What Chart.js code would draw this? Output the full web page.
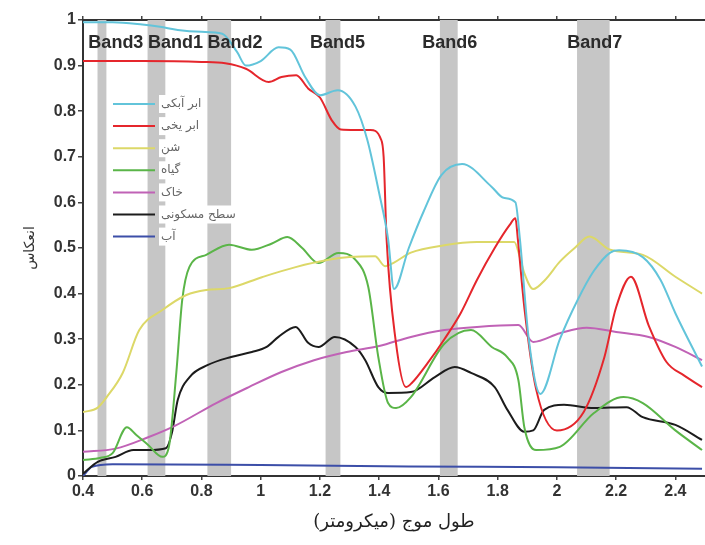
<!DOCTYPE html>
<html>
<head>
<meta charset="utf-8">
<script src="https://cdn.jsdelivr.net/npm/chart.js@4.4.1/dist/chart.umd.min.js"></script>
<style>
  html, body { margin: 0; padding: 0; background: #fff; }
</style>
</head>
<body>
<canvas id="chart" width="705" height="545"></canvas>
<script>
'use strict'

// axis ticks
let xTicks = [0.4, 0.6, 0.8, 1, 1.2, 1.4, 1.6, 1.8, 2, 2.2, 2.4];
let yTicks = [0, 0.1, 0.2, 0.3, 0.4, 0.5, 0.6, 0.7, 0.8, 0.9, 1];

// MODIS style bands (micrometre)
let bandNames = ['Band3', 'Band1', 'Band2', 'Band5', 'Band6', 'Band7'];
let bandFrom = [0.449, 0.618, 0.82, 1.219, 1.605, 2.068];
let bandTo = [0.479, 0.678, 0.90, 1.269, 1.665, 2.178];
let bandLabelX = [0.511, 0.712, 0.913, 1.259, 1.638, 2.128];
let bandLabelY = 0.95;

let seriesNames = ['ابر آبکی', 'ابر یخی', 'شن', 'گیاه', 'خاک', 'سطح مسکونی', 'آب'];
let seriesColors = ['#62c4da', '#e5262c', '#dcd868', '#5ab548', '#c062b6', '#1c1c1c', '#3c4ea8'];

// ابر آبکی
let waterCloudX = [0.40, 0.50, 0.60, 0.66, 0.72, 0.80, 0.87, 0.92, 0.95, 1.00, 1.06, 1.10, 1.15, 1.20, 1.26, 1.32, 1.36, 1.40, 1.43, 1.45, 1.50, 1.55, 1.61, 1.68, 1.78, 1.82, 1.86, 1.875, 1.905, 1.944, 2.01, 2.07, 2.125, 2.18, 2.21, 2.29, 2.35, 2.40, 2.49];
let waterCloudY = [0.995, 0.995, 0.99, 0.985, 0.978, 0.974, 0.97, 0.93, 0.90, 0.91, 0.94, 0.935, 0.875, 0.835, 0.846, 0.81, 0.737, 0.62, 0.52, 0.41, 0.50, 0.58, 0.66, 0.684, 0.634, 0.61, 0.60, 0.52, 0.30, 0.18, 0.30, 0.386, 0.45, 0.49, 0.495, 0.48, 0.43, 0.357, 0.24];

// ابر یخی
let iceCloudX = [0.40, 0.60, 0.80, 0.88, 0.95, 1.027, 1.07, 1.12, 1.16, 1.20, 1.24, 1.27, 1.32, 1.37, 1.405, 1.415, 1.425, 1.455, 1.49, 1.51, 1.564, 1.62, 1.675, 1.73, 1.79, 1.84, 1.86, 1.868, 1.89, 1.93, 2.00, 2.09, 2.16, 2.20, 2.25, 2.31, 2.37, 2.43, 2.49];
let iceCloudY = [0.91, 0.91, 0.908, 0.905, 0.893, 0.864, 0.875, 0.879, 0.85, 0.83, 0.78, 0.76, 0.759, 0.759, 0.74, 0.70, 0.52, 0.30, 0.195, 0.204, 0.248, 0.30, 0.357, 0.43, 0.50, 0.55, 0.565, 0.52, 0.37, 0.19, 0.10, 0.14, 0.26, 0.37, 0.437, 0.33, 0.25, 0.22, 0.195];

// شن
let sandX = [0.40, 0.45, 0.48, 0.534, 0.59, 0.668, 0.749, 0.816, 0.893, 1.004, 1.118, 1.229, 1.30, 1.386, 1.42, 1.45, 1.507, 1.62, 1.73, 1.856, 1.875, 1.89, 1.92, 1.96, 2.01, 2.06, 2.11, 2.18, 2.29, 2.40, 2.49];
let sandY = [0.14, 0.15, 0.173, 0.226, 0.32, 0.364, 0.397, 0.408, 0.412, 0.436, 0.458, 0.474, 0.48, 0.482, 0.46, 0.468, 0.49, 0.506, 0.513, 0.513, 0.48, 0.445, 0.41, 0.43, 0.47, 0.50, 0.525, 0.496, 0.485, 0.437, 0.40];

// گیاه
let vegX = [0.40, 0.46, 0.50, 0.548, 0.58, 0.62, 0.668, 0.69, 0.715, 0.735, 0.759, 0.816, 0.893, 0.97, 1.038, 1.09, 1.14, 1.195, 1.262, 1.32, 1.363, 1.397, 1.43, 1.457, 1.507, 1.62, 1.71, 1.78, 1.833, 1.87, 1.89, 1.93, 2.01, 2.125, 2.225, 2.29, 2.40, 2.49];
let vegY = [0.035, 0.04, 0.05, 0.107, 0.09, 0.068, 0.042, 0.064, 0.226, 0.386, 0.458, 0.485, 0.507, 0.496, 0.51, 0.524, 0.50, 0.467, 0.489, 0.474, 0.415, 0.261, 0.16, 0.149, 0.173, 0.29, 0.32, 0.283, 0.26, 0.21, 0.107, 0.057, 0.064, 0.138, 0.173, 0.16, 0.10, 0.057];

// خاک
let soilX = [0.40, 0.51, 0.62, 0.71, 0.85, 0.96, 1.07, 1.18, 1.29, 1.40, 1.507, 1.62, 1.73, 1.87, 1.92, 2.01, 2.10, 2.20, 2.31, 2.40, 2.49];
let soilY = [0.053, 0.06, 0.085, 0.11, 0.16, 0.195, 0.228, 0.254, 0.272, 0.285, 0.305, 0.32, 0.327, 0.331, 0.294, 0.313, 0.325, 0.316, 0.305, 0.283, 0.254];

// سطح مسکونی
let urbanX = [0.40, 0.45, 0.51, 0.57, 0.62, 0.68, 0.70, 0.72, 0.76, 0.82, 0.90, 0.97, 1.02, 1.06, 1.118, 1.16, 1.195, 1.25, 1.32, 1.353, 1.397, 1.43, 1.507, 1.588, 1.655, 1.71, 1.79, 1.833, 1.89, 1.92, 1.957, 2.024, 2.125, 2.235, 2.29, 2.40, 2.49];
let urbanY = [0.005, 0.031, 0.042, 0.057, 0.057, 0.061, 0.094, 0.167, 0.217, 0.243, 0.261, 0.272, 0.283, 0.305, 0.327, 0.292, 0.283, 0.305, 0.283, 0.254, 0.195, 0.182, 0.184, 0.217, 0.239, 0.226, 0.195, 0.145, 0.097, 0.10, 0.145, 0.156, 0.149, 0.151, 0.129, 0.112, 0.079];

// آب
let waterX = [0.40, 0.43, 0.50, 1.00, 1.50, 2.00, 2.49];
let waterY = [0.0, 0.02, 0.026, 0.024, 0.021, 0.019, 0.016];

let seriesX = [waterCloudX, iceCloudX, sandX, vegX, soilX, urbanX, waterX];
let seriesY = [waterCloudY, iceCloudY, sandY, vegY, soilY, urbanY, waterY];

function toPoints(xs, ys) {
    return xs.map((x, i) => ({ x: x, y: ys[i] }));
}

function fmt(v) {
    return String(Math.round(v * 10) / 10);
}

// gray band columns, band captions and the hand placed legend
const bandsPlugin = {
    id: 'bands',
    beforeDatasetsDraw(chart) {
        let ctx = chart.ctx;
        let area = chart.chartArea;
        let x = chart.scales.x;
        ctx.save();
        ctx.fillStyle = '#c6c6c6';
        for (let i = 0; i < bandNames.length; i++) {
            let x1 = x.getPixelForValue(bandFrom[i]);
            let x2 = x.getPixelForValue(bandTo[i]);
            ctx.fillRect(x1, area.top, x2 - x1, area.bottom - area.top);
        }
        ctx.restore();
    },
    afterDatasetsDraw(chart) {
        let ctx = chart.ctx;
        let area = chart.chartArea;
        let x = chart.scales.x;
        let y = chart.scales.y;
        ctx.save();
        ctx.font = 'bold 18px "Liberation Sans", Arial, sans-serif';
        ctx.fillStyle = '#2b2b2b';
        ctx.textAlign = 'center';
        ctx.textBaseline = 'middle';
        for (let i = 0; i < bandNames.length; i++) {
            ctx.fillText(bandNames[i], x.getPixelForValue(bandLabelX[i]), y.getPixelForValue(bandLabelY));
        }

        // legend
        ctx.font = '12px "DejaVu Sans", sans-serif';
        ctx.textAlign = 'left';
        chart.data.datasets.forEach((ds, i) => {
            let ly = area.top + 84 + i * 22.1;
            let lx = area.left + 30;
            ctx.strokeStyle = ds.borderColor;
            ctx.lineWidth = 2;
            ctx.beginPath();
            ctx.moveTo(lx, ly);
            ctx.lineTo(lx + 42, ly);
            ctx.stroke();
            let w = ctx.measureText(ds.label).width;
            ctx.fillStyle = '#fff';
            ctx.fillRect(lx + 46, ly - 9, w + 4, 18);
            ctx.fillStyle = '#666';
            ctx.fillText(ds.label, lx + 48, ly);
        });
        ctx.restore();
    }
};

const tickFont = { family: '"Liberation Sans", Arial, sans-serif', size: 16, weight: 'bold' };

new Chart(document.getElementById('chart'), {
    type: 'line',
    data: {
        datasets: seriesNames.map((name, i) => ({
            label: name,
            data: toPoints(seriesX[i], seriesY[i]),
            borderColor: seriesColors[i],
            backgroundColor: seriesColors[i],
            borderWidth: 2,
            pointRadius: 0,
            cubicInterpolationMode: 'monotone',
            fill: false
        }))
    },
    options: {
        responsive: false,
        devicePixelRatio: 1,
        animation: false,
        layout: { padding: 0 },
        plugins: {
            legend: { display: false },
            tooltip: { enabled: false }
        },
        scales: {
            x: {
                type: 'linear',
                min: 0.4,
                max: 2.5,
                afterBuildTicks: s => { s.ticks = xTicks.map(v => ({ value: v })); },
                afterFit: s => { s.height = 69; },
                ticks: { callback: v => fmt(v), font: tickFont, color: '#333', padding: 2, maxRotation: 0, autoSkip: false },
                grid: { drawOnChartArea: false, tickLength: 4, color: '#444', lineWidth: 1.5 },
                border: { color: '#333', width: 2 },
                title: {
                    display: true,
                    text: '\u200Fطول موج (میکرومتر)\u200F',
                    font: { family: '"DejaVu Serif", "DejaVu Sans", serif', size: 18 },
                    color: '#222',
                    padding: { top: 4, bottom: 12 }
                }
            },
            xTop: {
                type: 'linear',
                position: 'top',
                min: 0.4,
                max: 2.5,
                afterBuildTicks: s => { s.ticks = xTicks.map(v => ({ value: v })); },
                afterFit: s => { s.height = 20; },
                ticks: { display: false },
                grid: { drawOnChartArea: false, tickLength: 4, color: '#444', lineWidth: 1.5 },
                border: { color: '#333', width: 2 }
            },
            y: {
                type: 'linear',
                min: 0,
                max: 1,
                afterBuildTicks: s => { s.ticks = yTicks.map(v => ({ value: v })); },
                afterFit: s => { s.width = 83; },
                ticks: { callback: v => fmt(v), font: tickFont, color: '#333', padding: 2 },
                grid: { drawOnChartArea: false, tickLength: 5, color: '#444', lineWidth: 1.5 },
                border: { color: '#333', width: 2 },
                title: {
                    display: true,
                    text: 'انعکاس',
                    font: { family: '"DejaVu Sans", sans-serif', size: 14 },
                    color: '#333',
                    padding: { top: 22, bottom: 0 }
                }
            }
        }
    },
    plugins: [bandsPlugin]
});
</script>
</body>
</html>
